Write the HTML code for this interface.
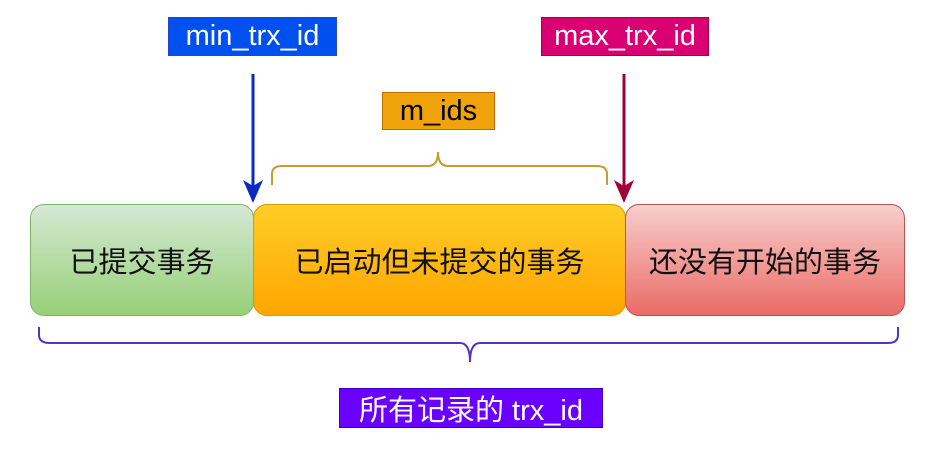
<!DOCTYPE html>
<html><head><meta charset="utf-8"><style>
body{margin:0;width:946px;height:451px;background:#fff;overflow:hidden;font-family:"Liberation Sans","Noto Sans CJK SC",sans-serif;position:relative}
.l{position:absolute;display:flex;align-items:center;justify-content:center;box-sizing:border-box;font-size:29px;white-space:nowrap}
.b{position:absolute;display:flex;align-items:center;justify-content:center;box-sizing:border-box;font-size:29px;color:#111;border-radius:14px;top:204px;height:112px;white-space:nowrap}
</style></head><body>
<div class="l" style="left:168px;top:17px;width:169px;height:39px;background:#0050ef;border:1px solid #2845c8;color:#fff">min_trx_id</div>
<div class="l" style="left:541px;top:17px;width:168px;height:39px;background:#d80073;border:1px solid #a50040;color:#fff">max_trx_id</div>
<div class="l" style="left:382px;top:92px;width:113px;height:38px;background:#f0a30a;border:1px solid #bd7000;color:#000">m_ids</div>
<div class="b" style="left:30px;width:224px;background:linear-gradient(#d5e8d4,#97d077);border:1px solid #82b366">已提交事务</div>
<div class="b" style="left:253px;width:373px;background:linear-gradient(#ffcd28,#ffa500);border:1px solid #d79b00">已启动但未提交的事务</div>
<div class="b" style="left:625px;width:280px;background:linear-gradient(#f8cecc,#ea6b66);border:1px solid #b85450">还没有开始的事务</div>
<div class="l" style="left:339px;top:388px;width:264px;height:40px;background:#6a00ff;border:1px solid #3700cc;color:#fff">所有记录的 trx_id</div>
<svg width="946" height="451" style="position:absolute;left:0;top:0">
<line x1="253" y1="74" x2="253" y2="186" stroke="#0a2ac0" stroke-width="3"/>
<polygon points="243,180 253,203 263,180 253,186" fill="#0a2ac0"/>
<line x1="624" y1="74" x2="624" y2="186" stroke="#a20038" stroke-width="3"/>
<polygon points="614,180 624,203 634,180 624,186" fill="#a20038"/>
<path d="M272,185 V174 Q272,166 282,166 H428 Q438,166 438,152 Q438,166 448,166 H597 Q607,166 607,174 V185" fill="none" stroke="#c99a2e" stroke-width="2"/>
<path d="M39,327 V335 Q39,343 50,343 H460 Q470,343 470,362 Q470,343 480,343 H888 Q898,343 898,335 V327" fill="none" stroke="#5533bb" stroke-width="2"/>
</svg>
</body></html>
